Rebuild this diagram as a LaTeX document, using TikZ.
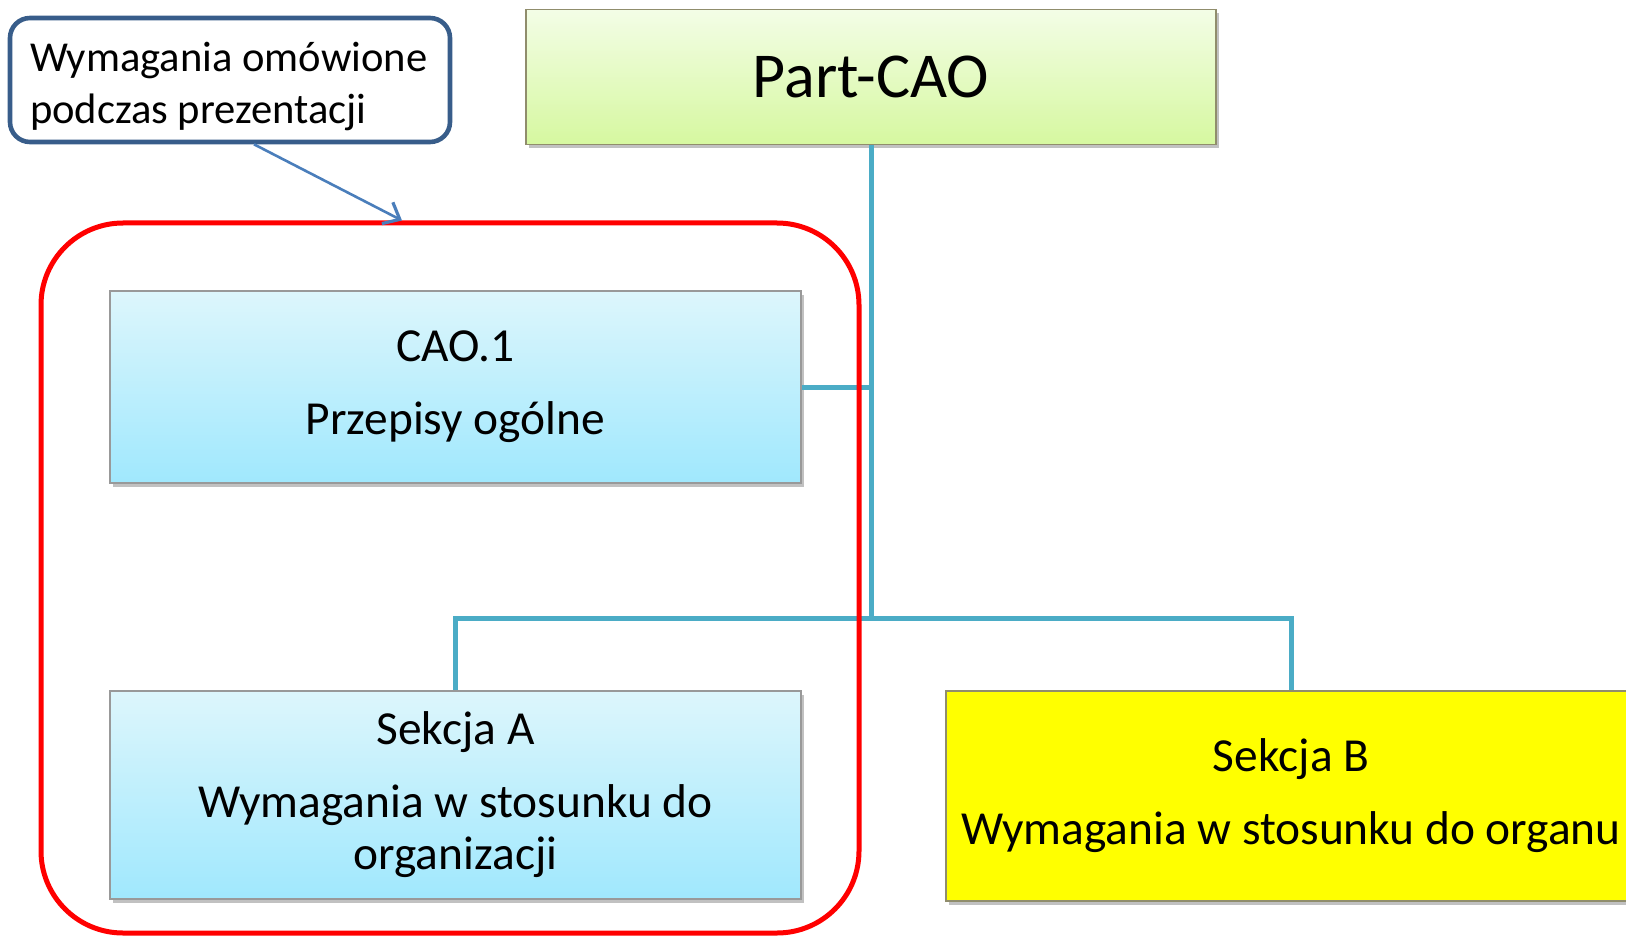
\documentclass[tikz,border=0pt]{standalone}
\usepackage{fontspec}
\setmainfont{Carlito}
\usetikzlibrary{arrows.meta,shadows}
\definecolor{linkblue}{HTML}{4BACC6}
\definecolor{noteblue}{HTML}{385D8A}
\definecolor{arrowblue}{HTML}{4A7EBB}
\definecolor{greentop}{HTML}{F3FDE6}
\definecolor{greenbot}{HTML}{D6F8A0}
\definecolor{bluetop}{HTML}{DDF6FC}
\definecolor{bluebot}{HTML}{A0E8FD}
\begin{document}
\begin{tikzpicture}[x=0.5pt, y=-0.5pt,
  boxshadow/.style={drop shadow={shadow xshift=1.5pt, shadow yshift=-2pt, opacity=0.35, fill=black!70}},
  part/.style={shape=rectangle, draw=gray!75!olive, line width=0.6pt, top color=greentop, bottom color=greenbot, boxshadow, minimum width=345pt, minimum height=67.5pt, font=\fontsize{32}{38}\selectfont},
  sect/.style={shape=rectangle, draw=gray!80, line width=0.6pt, top color=bluetop, bottom color=bluebot, boxshadow, minimum width=345.5pt, align=center, font=\fontsize{23.7}{26}\selectfont},
  sectB/.style={sect, draw=gray!75!olive, fill=yellow, top color=yellow, bottom color=yellow, minimum width=345pt},
  note/.style={shape=rectangle, draw=noteblue, line width=2.3pt, rounded corners=10pt, fill=white, minimum width=220pt, minimum height=62pt, inner xsep=10pt, inner ysep=3pt, text width=200pt, align=flush left, font=\fontsize{21.3}{26}\selectfont},
  group/.style={shape=rectangle, draw=red, line width=2.5pt, rounded corners=41pt, minimum width=409pt, minimum height=355pt},
  conn/.style={draw=linkblue, line width=2.5pt}]
\clip (0,0) rectangle (1626,936);
\node[part] (P) at (871,77) {Part-CAO};
\node[sect, minimum height=96pt] (CAO1) at (455.5,387) {CAO.1\\[10.5pt]Przepisy ogólne};
\node[sect, minimum height=104pt] (SA) at (455.5,795) {Sekcja A\\[10.5pt]Wymagania w stosunku do\\organizacji};
\node[sectB, minimum height=105pt] (SB) at (1291,796) {Sekcja B\\[10.5pt]Wymagania w stosunku do organu};
\coordinate (hub) at (871,618);
\path [conn] (P.south) edge (hub);
\path [conn] (CAO1.east) edge (CAO1.east -| hub);
\draw [conn] (hub) -| (SA.north);
\draw [conn] (hub) -| (SB.north);
\node[group] (G) at (450,578) {};
\node[note] (N) at (230,80) {\rule{0pt}{21pt}Wymagania omówione\\podczas prezentacji};
\draw [-{Straight Barb[length=7pt, width=12pt, line width=1.6pt]}, draw=arrowblue, line width=1.3pt] ([xshift=12pt]N.south) -- ([xshift=-24pt]G.north);
\end{tikzpicture}
\end{document}
